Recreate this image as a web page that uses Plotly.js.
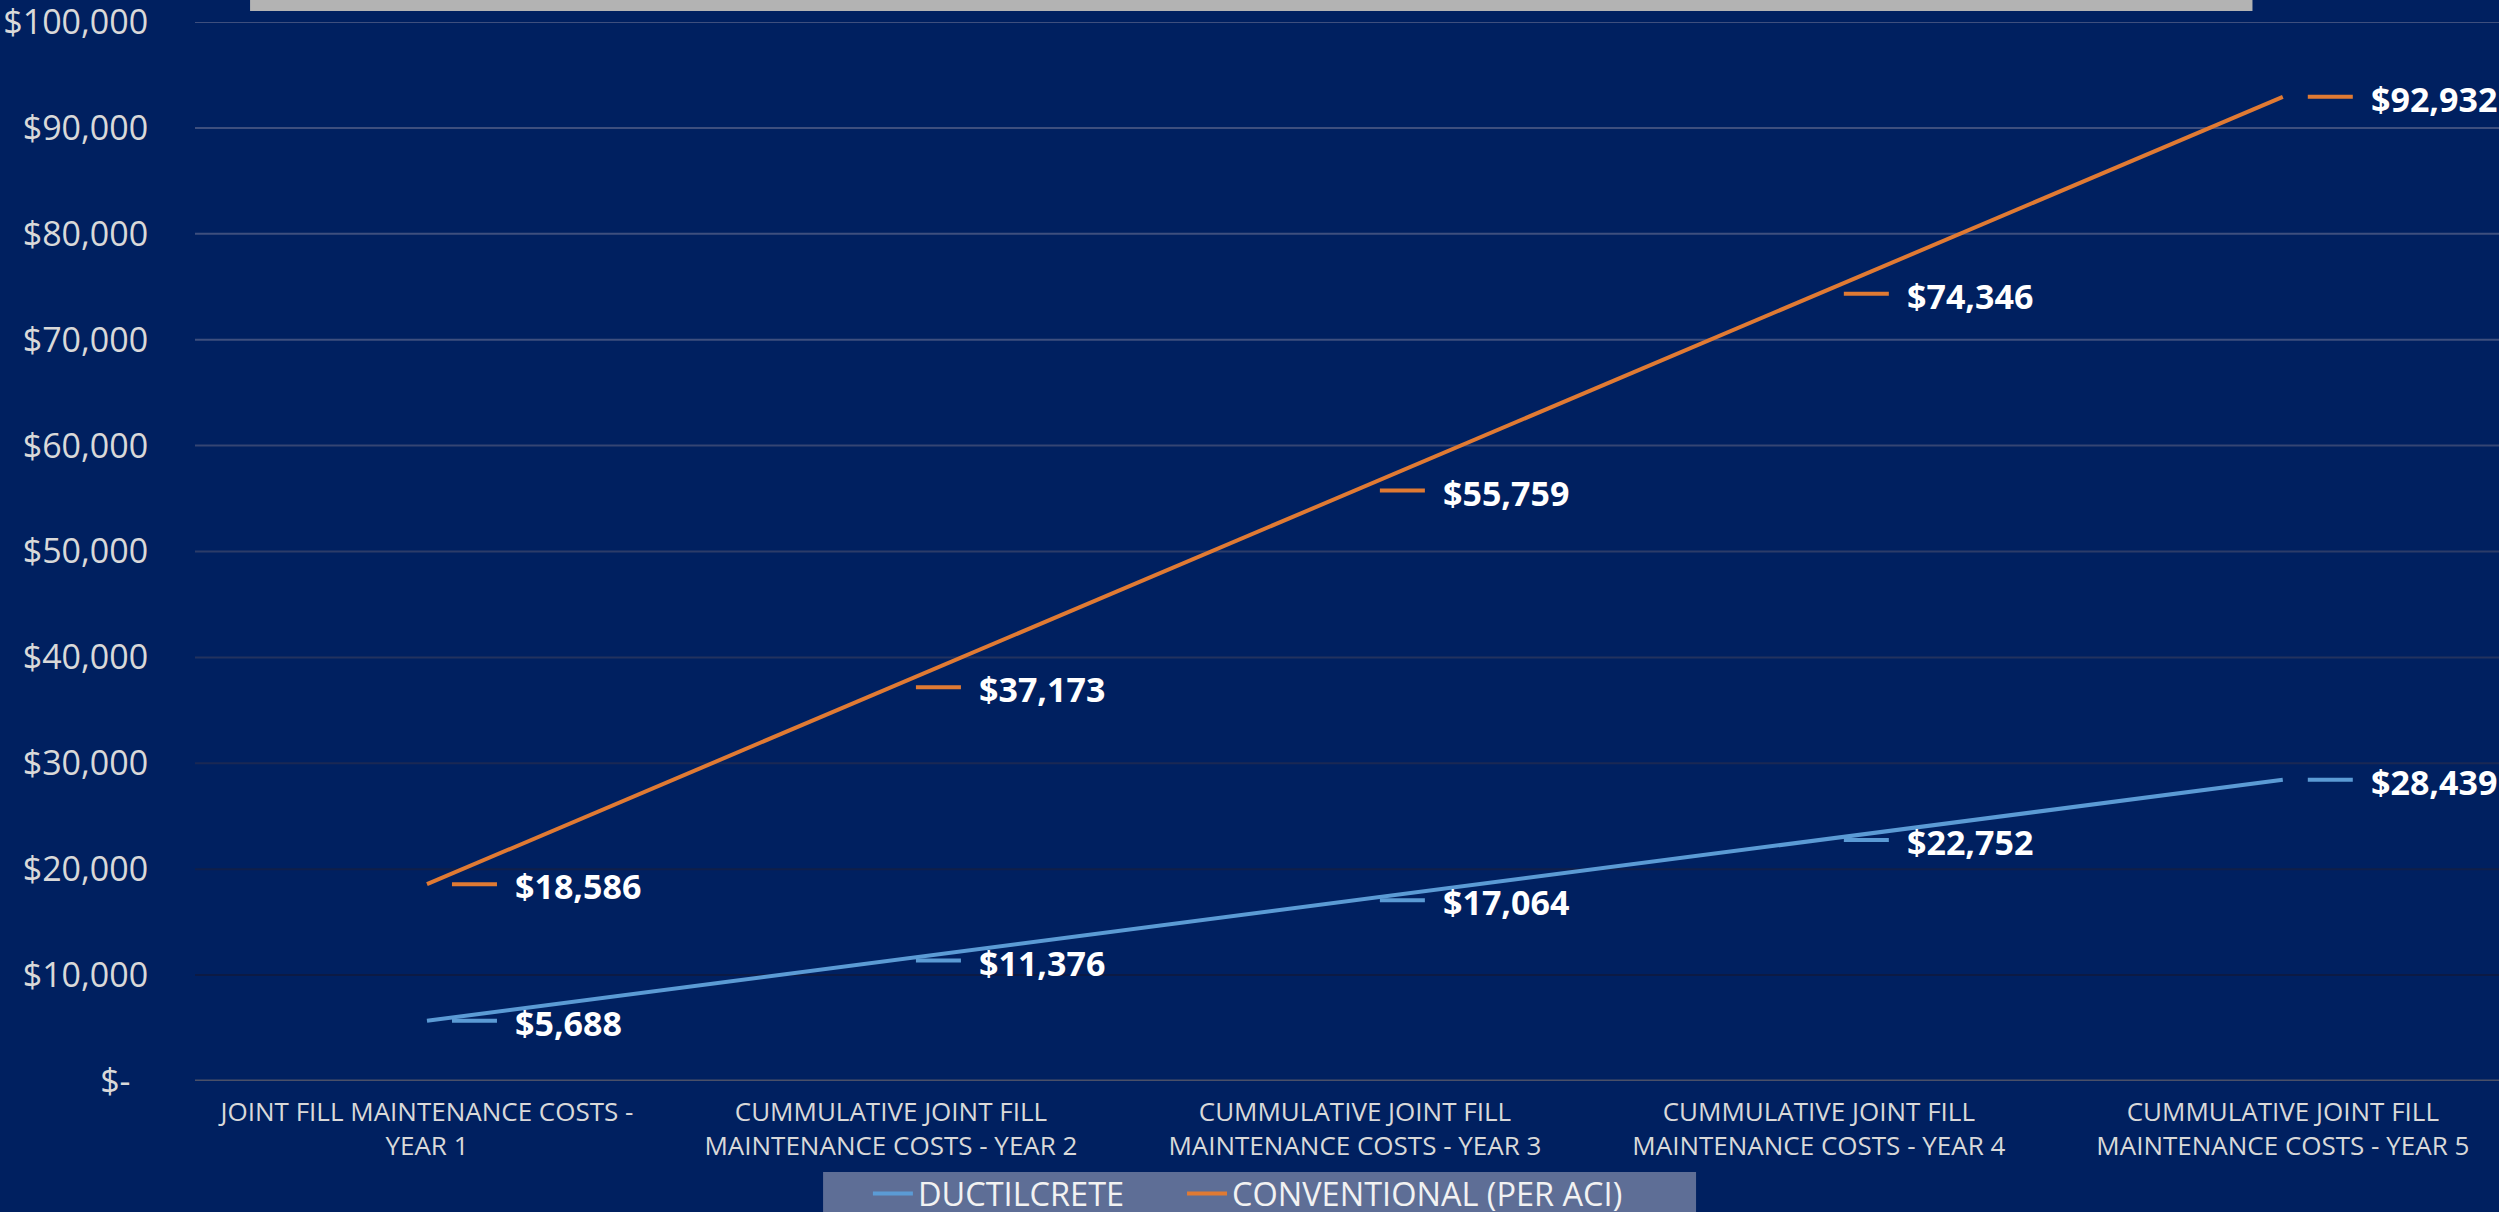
<!DOCTYPE html>
<html>
<head>
<meta charset="utf-8">
<script src="https://cdn.plot.ly/plotly-3.0.1.min.js"></script>
<style>
  html, body { margin: 0; padding: 0; background: #002060; overflow: hidden; }
  #chart { width: 2499px; height: 1212px; }
</style>
</head>
<body>
<div id="chart"></div>
<script>
// ---- data ----
const categories = [
  "JOINT FILL MAINTENANCE COSTS - YEAR 1",
  "CUMMULATIVE JOINT FILL MAINTENANCE COSTS - YEAR 2",
  "CUMMULATIVE JOINT FILL MAINTENANCE COSTS - YEAR 3",
  "CUMMULATIVE JOINT FILL MAINTENANCE COSTS - YEAR 4",
  "CUMMULATIVE JOINT FILL MAINTENANCE COSTS - YEAR 5"
];
const tickLabels = [
  "JOINT FILL MAINTENANCE COSTS -<br>YEAR 1",
  "CUMMULATIVE JOINT FILL<br>MAINTENANCE COSTS - YEAR 2",
  "CUMMULATIVE JOINT FILL<br>MAINTENANCE COSTS - YEAR 3",
  "CUMMULATIVE JOINT FILL<br>MAINTENANCE COSTS - YEAR 4",
  "CUMMULATIVE JOINT FILL<br>MAINTENANCE COSTS - YEAR 5"
];
const seriesNames = ["DUCTILCRETE", "CONVENTIONAL (PER ACI)"];
const ductilcrete = [5688, 11376, 17064, 22752, 28439];
const conventional = [18586, 37173, 55759, 74346, 92932];
const yTickVals = [0, 10000, 20000, 30000, 40000, 50000, 60000, 70000, 80000, 90000, 100000];
const yTickText = ["$-&nbsp;&nbsp;", "$10,000", "$20,000", "$30,000", "$40,000", "$50,000", "$60,000", "$70,000", "$80,000", "$90,000", "$100,000"];

// ---- styling ----
const BG = "#002060";
const BLUE = "#5B9BD5";
const ORANGE = "#E07A33";
const FONT = "Open Sans, Roboto, DejaVu Sans, sans-serif";
const colors = [BLUE, ORANGE];
const allSeries = [ductilcrete, conventional];
const legendIds = ["legend", "legend2"];

const fmt = v => "$" + v.toLocaleString("en-US");

const traces = allSeries.map((vals, k) => ({
  type: "scatter",
  mode: "lines",
  name: seriesNames[k],
  legend: legendIds[k],
  x: categories,
  y: vals,
  line: { color: colors[k], width: 4 },
  hoverinfo: "skip"
}));

const shapes = [];
const annotations = [];

// gridlines: dark near the bottom, lighter toward the top
function mix(a, b, t) {
  const pa = [1,3,5].map(i => parseInt(a.substr(i,2),16));
  const pb = [1,3,5].map(i => parseInt(b.substr(i,2),16));
  return "rgb(" + pa.map((c,i) => Math.round(c + (pb[i]-c)*t)).join(",") + ")";
}
yTickVals.forEach((v, i) => {
  if (v === 0) return;
  const t = Math.min(1, Math.max(0, (i - 1.5) / 5.5));
  shapes.push({
    type: "line", xref: "paper", yref: "y", x0: 0, x1: 1, y0: v, y1: v,
    line: { color: mix("#0c1a44", "#3e4f7e", t), width: 2 }, layer: "below"
  });
});
// zero line
shapes.push({
  type: "line", xref: "paper", yref: "y", x0: 0, x1: 1, y0: 0, y1: 0,
  line: { color: "#4a5068", width: 3 }, layer: "below"
});

// data labels: short coloured key + bold value
allSeries.forEach((vals, k) => {
  vals.forEach((v, i) => {
    shapes.push({
      type: "line", xref: "x", yref: "y",
      xsizemode: "pixel", xanchor: i, x0: 25, x1: 70,
      ysizemode: "pixel", yanchor: v, y0: 0, y1: 0,
      line: { color: colors[k], width: 4 }, layer: "above"
    });
    annotations.push({
      xref: "x", yref: "y", x: i, y: v,
      xanchor: "left", yanchor: "middle", xshift: 86, yshift: -2,
      text: "<b>" + fmt(v) + "</b>", showarrow: false,
      font: { family: FONT, size: 34, color: "#ffffff" }
    });
  });
});

// grey title box edge at the top (cropped)
shapes.push({
  type: "rect", xref: "paper", yref: "paper",
  x0: 0.0239, x1: 0.893, y0: 1.0104, y1: 1.05,
  fillcolor: "#b3b3b3", line: { width: 0 }, layer: "above"
});
// legend panel
shapes.push({
  type: "rect", xref: "paper", yref: "paper",
  x0: 0.2726, x1: 0.6515, y0: -0.0859, y1: -0.2,
  fillcolor: "#5e6e96", line: { width: 0 }, layer: "above"
});

const legendBase = {
  orientation: "h",
  xref: "container", yref: "container",
  xanchor: "left",
  y: 0.038, yanchor: "top",
  bgcolor: "rgba(0,0,0,0)",
  font: { family: FONT, size: 32.5, color: "#f2f2f2" },
  itemwidth: 40
};

const layout = {
  width: 2499,
  height: 1212,
  paper_bgcolor: BG,
  plot_bgcolor: BG,
  margin: { l: 195, r: 0, t: 22, b: 131, pad: 0, autoexpand: false },
  font: { family: FONT, color: "#d9d9d9" },
  showlegend: true,
  legend: Object.assign({}, legendBase, { x: 0.3473 }),
  legend2: Object.assign({}, legendBase, { x: 0.4730 }),
  xaxis: {
    type: "category",
    range: [-0.5, 4.466],
    tickmode: "array",
    tickvals: categories,
    ticktext: tickLabels,
    tickfont: { family: FONT, size: 26, color: "#d9d9d9" },
    ticks: "outside", ticklen: 8, tickcolor: "rgba(0,0,0,0)",
    showgrid: false, zeroline: false, showline: false,
    fixedrange: true
  },
  yaxis: {
    range: [0, 100000],
    tickmode: "array",
    tickvals: yTickVals,
    ticktext: yTickText,
    tickfont: { family: FONT, size: 34, color: "#d9d9d9" },
    ticks: "outside", ticklen: 39, tickcolor: "rgba(0,0,0,0)",
    ticklabeloverflow: "allow",
    showgrid: false, zeroline: false, showline: false,
    fixedrange: true
  },
  shapes: shapes,
  annotations: annotations
};

Plotly.newPlot("chart", traces, layout, { displayModeBar: false, staticPlot: true });
</script>
</body>
</html>
